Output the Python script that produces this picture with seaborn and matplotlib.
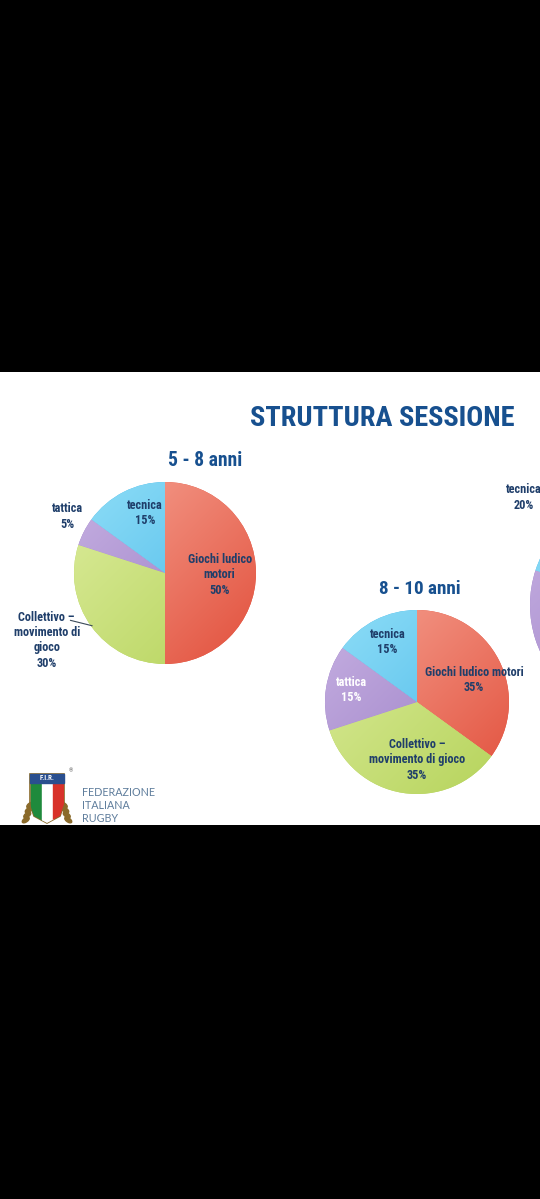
import numpy as np
import seaborn as sns
import matplotlib.pyplot as plt
from matplotlib import font_manager
from matplotlib.patches import Rectangle, Polygon, Ellipse
from matplotlib.colors import LinearSegmentedColormap

sns.set_style("white")

# pick a narrow bold face if one is installed
names = {f.name for f in font_manager.fontManager.ttflist}
narrow = [n for n in ['Roboto Condensed', 'Liberation Sans Narrow', 'Open Sans Condensed',
                      'Noto Sans Condensed', 'DejaVu Sans Condensed'] if n in names]
plt.rcParams['font.family'] = narrow + ['DejaVu Sans']
plt.rcParams['font.stretch'] = 'condensed'

# data
cats = ['Giochi ludico motori', 'Collettivo – movimento di gioco', 'tattica', 'tecnica']
vals_5_8 = [50, 30, 5, 15]
vals_8_10 = [35, 35, 15, 15]
vals_10_12 = [30, 30, 20, 20]   # only "tecnica 20%" is visible in the screenshot
labels_5_8 = ['Giochi ludico\nmotori', 'Collettivo –\nmovimento di\ngioco', 'tattica', 'tecnica']
labels_8_10 = ['Giochi ludico motori', 'Collettivo –\nmovimento di gioco', 'tattica', 'tecnica']

# light / dark tone of each slice
tones = [('#f6a393', '#e2503c'), ('#dcec9c', '#b5d35a'),
         ('#c6b0e2', '#9779c2'), ('#8fdef7', '#45b5e8')]
navy = '#1f3e6a'
blue = '#17508f'
W, H = 540, 1199

fig = plt.figure(figsize=(W / 100, H / 100), dpi=100, facecolor='black')
fig.add_artist(Rectangle((0, 1 - 825 / H), 1, 453 / H, transform=fig.transFigure,
                         facecolor='white', edgecolor='none', zorder=0))
renderer = fig.canvas.get_renderer()


def fit(t, target):
    # scale a text so it is `target` pixels wide
    w = t.get_window_extent(renderer).width
    t.set_fontsize(t.get_fontsize() * target / w)
    return t.get_fontsize()


def pie_axes(cx, cy, r, pad=1.3):
    ax = fig.add_axes([(cx - r * pad) / W, 1 - (cy + r * pad) / H,
                       2 * r * pad / W, 2 * r * pad / H])
    ax.axis('off')
    return ax, pad


def draw_pie(ax, pad, vals):
    wedges, _ = ax.pie(vals, startangle=90, counterclock=False,
                       colors=[t[1] for t in tones],
                       wedgeprops=dict(linewidth=0))
    xx, yy = np.meshgrid(np.linspace(-1, 1, 200), np.linspace(-1, 1, 200))
    grad = (xx - yy + 2) / 4
    for w, (lo, hi) in zip(wedges, tones):
        cm = LinearSegmentedColormap.from_list('g', [lo, hi])
        im = ax.imshow(grad, cmap=cm, extent=(-1, 1, -1, 1), origin='lower',
                       zorder=2, interpolation='bilinear')
        im.set_clip_path(w)
    ax.set_xlim(-pad, pad)
    ax.set_ylim(-pad, pad)
    ax.set_aspect('equal')
    return wedges


# label size: "Giochi ludico" is about 65 px wide in the slide
probe = fig.text(0, 0, 'Giochi ludico', fontsize=10, fontweight='bold')
fs = min(fit(probe, 64), 11)
probe.remove()
ls = 1.22

# pie 5 - 8 anni
ax1, p1 = pie_axes(165, 573, 91)
draw_pie(ax1, p1, vals_5_8)
pos1 = [(0.6, -0.02), (-1.3, -0.74), (-1.07, 0.62), (-0.22, 0.66)]
for lab, v, (x, y) in zip(labels_5_8, vals_5_8, pos1):
    ax1.text(x, y, f'{lab}\n{v}%', ha='center', va='center', fontsize=fs,
             color=navy, fontweight='bold', linespacing=ls, zorder=5)
ax1.plot([-1.04, -0.8], [-0.52, -0.58], color='#3a4a5a', lw=0.8, zorder=5, clip_on=False)

# pie 8 - 10 anni
ax2, p2 = pie_axes(417, 702, 92)
draw_pie(ax2, p2, vals_8_10)
pos2 = [(0.62, 0.24), (0.0, -0.63), (-0.71, 0.13), (-0.32, 0.65)]
cols2 = [navy, navy, 'white', navy]
for lab, v, (x, y), c in zip(labels_8_10, vals_8_10, pos2, cols2):
    ax2.text(x, y, f'{lab}\n{v}%', ha='center', va='center', fontsize=fs,
             color=c, fontweight='bold', linespacing=ls, zorder=5)

# third pie, mostly off the right edge
ax3, p3 = pie_axes(642, 605, 112)
draw_pie(ax3, p3, vals_10_12)
ax3.text(-1.06, 0.96, f'tecnica\n{vals_10_12[3]}%', ha='center', va='center',
         fontsize=fs, color=navy, fontweight='bold', linespacing=ls, zorder=5)

# titles
t0 = fig.text(515 / W, 1 - 418 / H, 'STRUTTURA SESSIONE', ha='right', va='center',
              fontsize=24, fontweight='bold', color=blue)
fit(t0, 265)
t1 = fig.text(205 / W, 1 - 461 / H, '5 - 8 anni', ha='center', va='center',
              fontsize=16, fontweight='bold', color=blue)
fit(t1, 74)
t2 = fig.text(420 / W, 1 - 589 / H, '8 - 10 anni', ha='center', va='center',
              fontsize=16, fontweight='bold', color=blue)
fit(t2, 82)

# FIR logo
lg = fig.add_axes([16 / W, 1 - 826 / H, 62 / W, 58 / H])
lg.set_xlim(0, 62)
lg.set_ylim(0, 58)
lg.axis('off')
for cx, ang in [(12, 35), (50, -35)]:
    for k in range(4):
        lg.add_patch(Ellipse((cx + (k - 1.5) * (1 if cx < 30 else -1) * 1.5, 6 + k * 5),
                             8, 4, angle=ang, color='#8a6a2a'))
shield = Polygon([(14, 52), (48, 52), (48, 22), (44, 10), (31, 3), (18, 10), (14, 22)],
                 closed=True, facecolor='none', edgecolor='#8a6a2a', lw=1.2)
lg.add_patch(shield)
for i, c in enumerate(['#1f8a3c', 'white', '#d8322a']):
    st = Rectangle((15 + i * 11, 0), 11.3, 43, color=c)
    lg.add_patch(st)
    st.set_clip_path(shield)
lg.add_patch(Rectangle((14, 43), 34, 9, color='#2a4f8f'))
lg.text(31, 47.5, 'F.I.R.', ha='center', va='center', fontsize=5, color='white',
        fontweight='bold')
lg.text(53, 54, '®', fontsize=4, color='#555555')
for i, t in enumerate(['FEDERAZIONE', 'ITALIANA', 'RUGBY']):
    tx = fig.text(82 / W, 1 - (792 + i * 13.5) / H, t, ha='left', va='center',
                  fontsize=8.5, color='#5f7d9c', family=['Lato', 'DejaVu Sans'],
                  fontstretch='normal')
    if i == 0:
        fit(tx, 73)
        fsl = tx.get_fontsize()
    else:
        tx.set_fontsize(fsl)

fig.savefig('out.png', dpi=100, facecolor='black')
